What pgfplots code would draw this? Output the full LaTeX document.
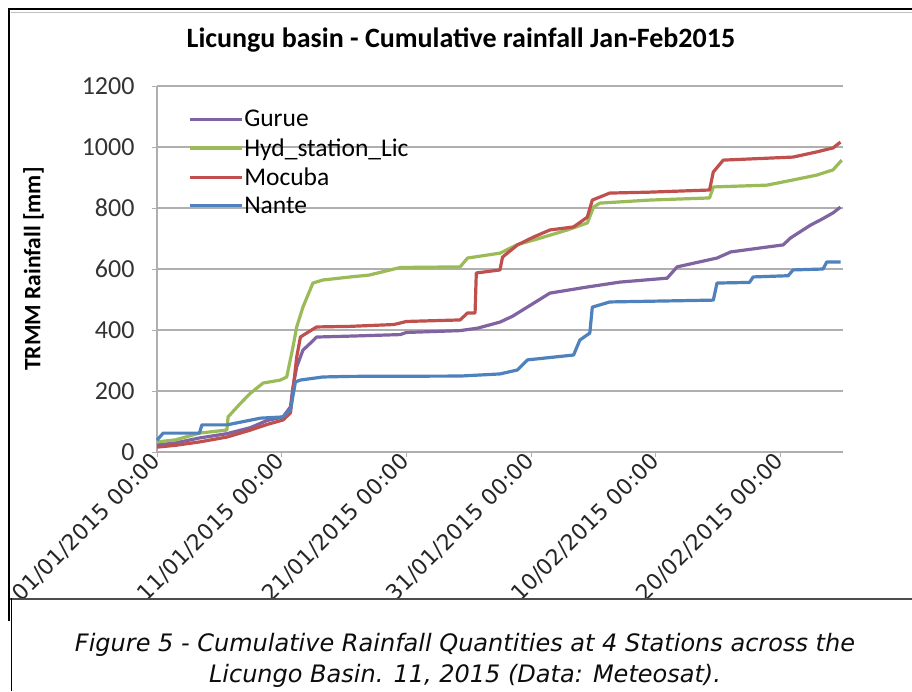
\documentclass[border=0pt]{standalone}
\usepackage{pgfplots}
\pgfplotsset{compat=1.18}
\usepackage{fontspec}
\setmainfont{Carlito}
\newfontfamily\dejavu{DejaVu Sans}
\definecolor{cGurue}{RGB}{128,100,162}
\definecolor{cHyd}{RGB}{155,187,89}
\definecolor{cMoc}{RGB}{192,80,77}
\definecolor{cNan}{RGB}{79,129,189}
\definecolor{gridc}{RGB}{175,175,175}
\begin{document}
\begin{tikzpicture}[x=1pt,y=1pt]
\useasboundingbox (0,0) rectangle (912,-691);
\fill[white] (0,0) rectangle (912,-691);
\begin{scope}
\clip (10,-10) rectangle (912,-597);
\begin{axis}[
  at={(157pt,-452pt)}, anchor=south west,
  scale only axis, width=686pt, height=366pt,
  xmin=0, xmax=55, ymin=0, ymax=1200,
  axis lines*=left,
  axis line style={gridc, line width=1.2pt},
  every tick/.style={gridc, line width=1pt},
  tick align=outside, major tick length=5pt,
  ytick={0,200,...,1200},
  xtick={0,10,20,30,40,50},
  xticklabels={01/01/2015 00:00,11/01/2015 00:00,21/01/2015 00:00,31/01/2015 00:00,10/02/2015 00:00,20/02/2015 00:00},
  x tick label style={font=\dejavu\fontsize{22}{26}\selectfont, rotate=45, anchor=east, color=black!85, inner sep=1pt},
  y tick label style={font=\fontsize{26}{30}\selectfont, color=black!80, xshift=-14pt},
  /pgf/number format/assume math mode=true,
  /pgf/number format/1000 sep={},
  ymajorgrids, grid style={gridc, line width=1.2pt},
  ylabel={TRMM Rainfall [mm]},
  ylabel style={font=\bfseries\fontsize{23.5}{27}\selectfont, at={(axis description cs:-0.18,0.5)}, anchor=center, rotate=0},
  title={Licungu basin - Cumulative rainfall Jan-Feb2015},
  title style={font=\bfseries\fontsize{28}{32}\selectfont, at={(axis description cs:0.443,1.11)}, anchor=center},
  legend style={draw=none, fill=none, at={(axis description cs:0.045,0.937)}, anchor=north west, font=\fontsize{25.5}{29}\selectfont, row sep=8pt, inner sep=0pt, nodes={inner sep=1pt}},
  legend cell align=left,
  legend image code/.code={\draw[#1] (0pt,0pt) -- (52pt,0pt);},
  clip=false,
]
\addplot[cGurue, line width=3.2pt, line join=round] coordinates {
(0,23) (1.5,30) (3.4,46) (5.6,60) (7.5,80) (8.8,103) (10.1,115) (10.7,148) (10.9,213) (11.2,279) (11.7,334) (12.3,357) (12.8,377) (15.5,380) (19.5,385) (20,392) (24.3,398) (25.7,406) (27.5,426) (28.5,445) (30.2,488) (31.5,521) (34.5,541) (37.1,557) (40.9,570) (41.7,607) (44.9,636) (46,656) (48.9,672) (50.2,679) (50.8,702) (52.4,744) (53.2,761) (54.2,784) (54.8,803)
};
\addlegendentry{Gurue}
\addplot[cHyd, line width=3.2pt, line join=round] coordinates {
(0,33) (1.5,40) (3.4,62) (5.6,72) (5.7,115) (6.7,160) (7.5,193) (8.5,226) (9.9,236) (10.4,246) (10.9,344) (11.2,410) (11.7,475) (12.5,554) (13.3,564) (15.5,574) (17,580) (18.5,595) (19.5,605) (24.3,607) (24.9,636) (27.5,652) (28.9,680) (30.2,695) (32.9,728) (34.5,751) (35,803) (35.5,816) (39.5,826) (44.3,833) (44.6,869) (48.9,875) (51,892) (52.9,908) (54.2,925) (54.9,957)
};
\addlegendentry{Hyd\_station\_Lic}
\addplot[cMoc, line width=3.2pt, line join=round] coordinates {
(0,16) (1.5,22) (3.4,33) (5.6,49) (7.5,72) (8.8,90) (10.1,105) (10.7,128) (11.2,311) (11.5,377) (12,390) (12.8,410) (15.5,412) (19,418) (20,428) (24.3,433) (24.9,456) (25.5,456) (25.6,587) (27.5,597) (27.7,639) (28.9,679) (30.2,705) (31.5,728) (33.4,738) (34.5,770) (34.9,826) (36.3,849) (39.5,852) (44.3,859) (44.6,918) (45.4,957) (51,967) (52.9,984) (54.2,997) (54.8,1016)
};
\addlegendentry{Mocuba}
\addplot[cNan, line width=3.2pt, line join=round] coordinates {
(0,39) (0.5,62) (3.4,62) (3.6,89) (5.6,89) (8.3,111) (10.1,115) (10.7,138) (11.1,230) (11.5,236) (13.3,246) (15.5,248) (24.3,249) (27.5,256) (28.9,269) (29.7,302) (33.4,318) (33.9,367) (34.7,390) (34.9,475) (36.3,492) (44.6,498) (44.9,554) (47.5,556) (47.8,574) (50.6,578) (51,597) (53.4,600) (53.7,623) (54.8,623)
};
\addlegendentry{Nante}
\end{axis}
\end{scope}
% frame
\draw[black!25, line width=1pt] (11,-12) -- (912,-12);
\draw[black, line width=2.8pt] (8,-9) -- (912,-9);
\draw[black, line width=2.8pt] (9,-8) -- (9,-621);
\draw[black!70, line width=2pt] (10,-598.5) -- (912,-598.5);
\draw[black, line width=1pt] (11,-598) -- (11,-691);
% caption
\node[font=\dejavu\itshape\fontsize{24}{28}\selectfont, color=black!95] at (465,-645) {Figure 5 - Cumulative Rainfall Quantities at 4 Stations across the};
\node[font=\dejavu\itshape\fontsize{24}{28}\selectfont, color=black!95] at (465,-676) {Licungo Basin. 11, 2015 (Data: Meteosat).};
\end{tikzpicture}
\end{document}
